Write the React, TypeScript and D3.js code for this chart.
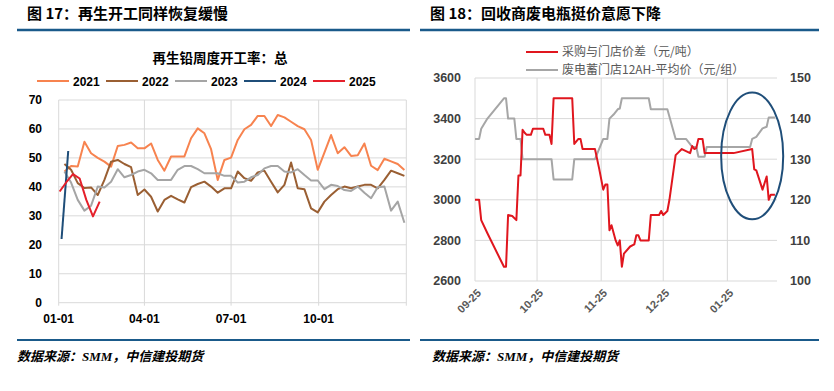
import React from "react";
import * as d3 from "d3";

// ---------- Left chart data (再生铅周度开工率：总) ----------
const seriesNames = ["2021", "2022", "2023", "2024", "2025"];
const seriesColors = ["#F7834F", "#9A5F33", "#A5A5A5", "#1F4E79", "#E5202B"];
const weeklyStart = "01-07"; // first weekly observation (month-day)
const rate2021 = [45.3, 47.2, 47, 55.6, 51.6, 50, 48.7, 47, 54.1, 54.5, 55.3, 53.3, 53.3, 55, 49.3, 45.6, 50.5, 50.5, 50.5, 56.8, 60.2, 58.5, 53, 42.4, 49.3, 50.1, 56.2, 59.9, 61.4, 64.5, 64.5, 61.0, 64.8, 64.0, 62.5, 61.0, 59.9, 56.2, 45.9, 51.8, 57.9, 51.6, 53.7, 50.7, 50.9, 55.0, 47.3, 45.8, 49.7, 48.8, 47.9, 45.8];
const rate2022 = [47.9, 45.9, 41.3, 39.6, 39.8, 37.2, 42.4, 48.7, 49.3, 47.9, 46.8, 37.2, 39.1, 36.6, 31.5, 35.5, 36.9, 35.7, 34.6, 39.9, 41.0, 41.8, 40.1, 38.0, 39.5, 39.5, 45.3, 43.0, 42.1, 45.0, 45.6, 41.8, 38.1, 40.7, 48.4, 39.5, 39.2, 32.6, 31.2, 34.9, 37.2, 39.2, 40.1, 39.5, 40.1, 40.7, 40.7, 39.5, 42.4, 45.6, 44.7, 43.8];
const rate2023 = [45.3, 41.5, 35.5, 31.8, 33.5, 40.1, 39.8, 41.8, 46.1, 43.3, 44.1, 45.3, 45.9, 44.7, 42.4, 42.4, 42.4, 45.9, 47.2, 47.2, 46.1, 44.7, 44.7, 44.7, 43.8, 43.8, 41.5, 41.8, 43.3, 44.1, 46.4, 47.2, 47.2, 45.3, 45.0, 46.1, 44.1, 42.2, 42.2, 39.2, 40.7, 40.3, 38.9, 38.6, 40.1, 38.0, 36.1, 39.9, 40.1, 31.8, 34.9, 27.6];
const dates2024 = ["01-04", "01-11"];
const rate2024 = [22, 52.4];
const dates2025 = ["01-02", "01-09", "01-16", "01-23", "01-30", "02-06", "02-13"];
const rate2025 = [38.4, 41.6, 44.4, 42.9, 35.5, 29.8, 34.9];
const leftYTicks = [0, 10, 20, 30, 40, 50, 60, 70];
const leftXTicks = ["01-01", "04-01", "07-01", "10-01"];

// ---------- Right chart data ----------
const spreadDates = ["2024-09-25", "2024-09-27", "2024-09-28", "2024-10-01", "2024-10-09", "2024-10-10", "2024-10-11", "2024-10-13", "2024-10-15", "2024-10-16", "2024-10-17", "2024-10-18", "2024-10-19", "2024-10-20", "2024-10-22", "2024-10-23", "2024-10-28", "2024-10-29", "2024-10-31", "2024-11-01", "2024-11-02", "2024-11-11", "2024-11-12", "2024-11-14", "2024-11-15", "2024-11-16", "2024-11-22", "2024-11-24", "2024-11-26", "2024-11-27", "2024-11-28", "2024-11-29", "2024-11-30", "2024-12-02", "2024-12-03", "2024-12-04", "2024-12-05", "2024-12-06", "2024-12-09", "2024-12-11", "2024-12-12", "2024-12-13", "2024-12-14", "2024-12-18", "2024-12-19", "2024-12-23", "2024-12-24", "2024-12-25", "2024-12-27", "2024-12-28", "2024-12-31", "2025-01-01", "2025-01-03", "2025-01-04", "2025-01-07", "2025-01-08", "2025-01-09", "2025-01-10", "2025-01-11", "2025-01-13", "2025-01-14", "2025-01-28", "2025-02-06", "2025-02-07", "2025-02-08", "2025-02-11", "2025-02-13", "2025-02-14", "2025-02-15", "2025-02-17"];
const spreadValues = [3000, 3000, 2900, 2835, 2670, 2670, 2925, 2920, 2900, 3120, 3120, 3345, 3330, 3320, 3320, 3350, 3350, 3320, 3320, 3275, 3500, 3500, 3275, 3300, 3300, 3250, 3250, 3155, 3050, 3075, 3075, 2850, 2875, 2800, 2775, 2800, 2670, 2735, 2770, 2780, 2825, 2825, 2800, 2800, 2925, 2925, 2945, 2925, 2945, 3000, 3220, 3230, 3250, 3245, 3230, 3265, 3250, 3255, 3300, 3300, 3230, 3230, 3250, 3150, 3145, 3050, 3115, 3000, 3025, 3025];
const priceDates = ["2024-09-25", "2024-09-27", "2024-09-28", "2024-10-01", "2024-10-09", "2024-10-10", "2024-10-11", "2024-10-14", "2024-10-15", "2024-10-17", "2024-10-18", "2024-11-01", "2024-11-02", "2024-11-11", "2024-11-12", "2024-11-22", "2024-11-26", "2024-11-28", "2024-11-29", "2024-12-01", "2024-12-03", "2024-12-04", "2024-12-05", "2024-12-18", "2024-12-19", "2024-12-27", "2024-12-31", "2025-01-05", "2025-01-07", "2025-01-08", "2025-01-10", "2025-01-11", "2025-01-14", "2025-01-15", "2025-02-05", "2025-02-06", "2025-02-08", "2025-02-11", "2025-02-13", "2025-02-14", "2025-02-17"];
const priceValues = [135, 135, 137.5, 140, 145, 145, 140, 140, 135, 135, 130, 130, 125, 125, 130, 130, 135, 135, 140, 141, 142.3, 142.5, 145, 145, 142.3, 142.3, 135, 135, 133.7, 133, 133, 130.6, 130.6, 133, 133, 135, 135.5, 137.6, 138, 140.3, 140.3];
const rightLeftTicks = [2600, 2800, 3000, 3200, 3400, 3600];
const rightRightTicks = [100, 110, 120, 130, 140, 150];
const rightXTicks = ["2024-09-25", "2024-10-25", "2024-11-25", "2024-12-25", "2025-01-25"];
const highlight = { date: "2025-02-06", value: 3216, halfDays: 15, halfValue: 312 };

const CJK = "'Noto Sans CJK SC', 'Noto Sans', sans-serif";
const NUM = "'Liberation Sans', Arial, 'Noto Sans CJK SC', sans-serif";
const BLUE = "#1A5A8A";
const GRID = "#D9D9D9";

const parseMD = (md: string) => d3.timeParse("%Y-%m-%d")("2021-" + md) as Date;
const parseD = d3.timeParse("%Y-%m-%d");

function LeftChart() {
  const x = d3.scaleTime().domain([new Date(2021, 0, 1), new Date(2022, 0, 1)]).range([58.7, 406.3]);
  const y = d3.scaleLinear().domain([0, 70]).range([302.7, 100]);
  const start = parseMD(weeklyStart);
  const weekly = (vals: number[]) => vals.map((v, i) => ({ d: d3.timeDay.offset(start, 7 * i), v }));
  const series = [
    weekly(rate2021),
    weekly(rate2022),
    weekly(rate2023),
    dates2024.map((md, i) => ({ d: parseMD(md), v: rate2024[i] })),
    dates2025.map((md, i) => ({ d: parseMD(md), v: rate2025[i] })),
  ];
  const line = d3.line<{ d: Date; v: number }>().x((p) => x(p.d)).y((p) => y(p.v));
  const [x0, x1] = x.range();
  const vLines = [...leftXTicks.map(parseMD), new Date(2022, 0, 1)];
  const legendX = [37, 106, 175, 244, 313];
  return (
    <g>
      <text x={27} y={18.5} fontFamily={CJK} fontWeight="bold" fontSize={15} fill="#000">图 17：再生开工同样恢复缓慢</text>
      <line x1={17} x2={410} y1={30} y2={30} stroke={BLUE} strokeWidth={2.5} />
      <text x={220} y={63} textAnchor="middle" fontFamily={CJK} fontWeight="bold" fontSize={13.5} fill="#000">再生铅周度开工率：总</text>
      {seriesNames.map((n, i) => (
        <g key={n}>
          <line x1={legendX[i]} x2={legendX[i] + 32} y1={81} y2={81} stroke={seriesColors[i]} strokeWidth={2} />
          <text x={legendX[i] + 36} y={85.5} fontFamily={NUM} fontWeight="bold" fontSize={12} fill="#000">{n}</text>
        </g>
      ))}
      {leftYTicks.map((t) => (
        <g key={t}>
          <line x1={x0} x2={x1} y1={y(t)} y2={y(t)} stroke={GRID} strokeWidth={1} />
          <text x={42} y={y(t)} dy="0.35em" textAnchor="end" fontFamily={NUM} fontWeight="bold" fontSize={12} fill="#000">{t}</text>
        </g>
      ))}
      {vLines.map((d, i) => (
        <line key={i} x1={x(d)} x2={x(d)} y1={y(70)} y2={y(0) + 3} stroke={GRID} strokeWidth={1} />
      ))}
      {leftXTicks.map((t) => (
        <text key={t} x={x(parseMD(t))} y={319} dy="0.35em" textAnchor="middle" fontFamily={NUM} fontWeight="bold" fontSize={12} fill="#000">{t}</text>
      ))}
      {series.map((s, i) => (
        <path key={i} d={line(s) || ""} fill="none" stroke={seriesColors[i]} strokeWidth={2} strokeLinejoin="round" />
      ))}
      <line x1={17} x2={410} y1={340} y2={340} stroke={BLUE} strokeWidth={2} />
      <text x={17} y={361} fontFamily={"'Liberation Serif', 'Times New Roman', 'Noto Sans CJK SC', serif"} fontStyle="italic" fontWeight="bold" fontSize={13} fill="#000">数据来源：SMM，中信建投期货</text>
    </g>
  );
}

function RightChart() {
  const x = d3.scaleTime().domain([parseD("2024-09-25") as Date, parseD("2025-02-18") as Date]).range([475, 777]);
  const yL = d3.scaleLinear().domain([2600, 3600]).range([281, 78]);
  const yR = d3.scaleLinear().domain([100, 150]).range([281, 78]);
  const [x0, x1] = x.range();
  const spread = spreadDates.map((d, i) => ({ d: parseD(d) as Date, v: spreadValues[i] }));
  const price = priceDates.map((d, i) => ({ d: parseD(d) as Date, v: priceValues[i] }));
  const lineL = d3.line<{ d: Date; v: number }>().x((p) => x(p.d)).y((p) => yL(p.v));
  const lineR = d3.line<{ d: Date; v: number }>().x((p) => x(p.d)).y((p) => yR(p.v));
  const fmt = d3.timeFormat("%m-%d");
  const hc = parseD(highlight.date) as Date;
  const ecx = x(hc);
  const erx = x(d3.timeDay.offset(hc, highlight.halfDays)) - ecx;
  const ecy = yL(highlight.value);
  const ery = yL(highlight.value - highlight.halfValue) - ecy;
  return (
    <g>
      <text x={430} y={18.5} fontFamily={CJK} fontWeight="bold" fontSize={15} fill="#000">图 18：回收商废电瓶挺价意愿下降</text>
      <line x1={420} x2={819} y1={30} y2={30} stroke={BLUE} strokeWidth={2.5} />
      <line x1={526} x2={558} y1={52} y2={52} stroke="#E0161E" strokeWidth={2} />
      <text x={562} y={52} dy="0.35em" fontFamily={CJK} fontSize={12} fill="#595959">采购与门店价差（元/吨）</text>
      <line x1={526} x2={558} y1={70} y2={70} stroke="#A6A6A6" strokeWidth={2} />
      <text x={562} y={70} dy="0.35em" fontFamily={CJK} fontSize={12} fill="#595959">废电蓄门店12AH-平均价（元/组）</text>
      {rightLeftTicks.map((t) => (
        <g key={t}>
          <line x1={x0} x2={x1} y1={yL(t)} y2={yL(t)} stroke={GRID} strokeWidth={1} />
          <text x={461} y={yL(t)} dy="0.35em" textAnchor="end" fontFamily={NUM} fontWeight="bold" fontSize={12.5} fill="#404040">{t}</text>
        </g>
      ))}
      {rightRightTicks.map((t) => (
        <text key={t} x={790} y={yR(t)} dy="0.35em" textAnchor="start" fontFamily={NUM} fontWeight="bold" fontSize={12.5} fill="#404040">{t}</text>
      ))}
      {rightXTicks.map((t) => {
        const xx = x(parseD(t) as Date);
        return (
          <g key={t}>
            <line x1={xx} x2={xx} y1={yL(3600)} y2={yL(2600)} stroke={GRID} strokeWidth={1} />
            <text transform={`translate(${xx + 4},${291}) rotate(-45)`} textAnchor="end" dy="0.35em" fontFamily={NUM} fontWeight="bold" fontSize={11} fill="#595959">{fmt(parseD(t) as Date)}</text>
          </g>
        );
      })}
      <path d={lineR(price) || ""} fill="none" stroke="#A6A6A6" strokeWidth={2} strokeLinejoin="round" />
      <path d={lineL(spread) || ""} fill="none" stroke="#E0161E" strokeWidth={2} strokeLinejoin="round" />
      <ellipse cx={ecx} cy={ecy} rx={erx} ry={ery} fill="none" stroke="#1F4E79" strokeWidth={2} />
      <line x1={420} x2={819} y1={340} y2={340} stroke={BLUE} strokeWidth={2} />
      <text x={432} y={361} fontFamily={"'Liberation Serif', 'Times New Roman', 'Noto Sans CJK SC', serif"} fontStyle="italic" fontWeight="bold" fontSize={13} fill="#000">数据来源：SMM，中信建投期货</text>
    </g>
  );
}

export default function App() {
  return (
    <svg width={834} height={391} style={{ position: "absolute", left: 0, top: 0, background: "#fff" }}>
      <rect width={834} height={391} fill="#fff" />
      <LeftChart />
      <RightChart />
    </svg>
  );
}
